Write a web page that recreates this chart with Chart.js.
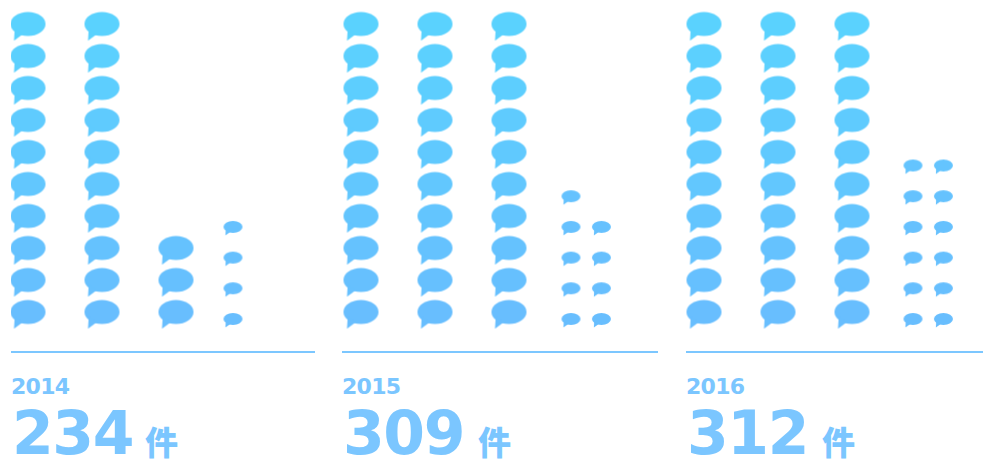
<!DOCTYPE html>
<html lang="ja">
<head>
<meta charset="utf-8">
<title>件数の推移</title>
<script src="https://cdn.jsdelivr.net/npm/chart.js@4"></script>
<style>
  html, body { margin: 0; background: #fff; }
  body { position: relative; width: 983px; height: 461px; overflow: hidden;
         font-family: "DejaVu Sans", sans-serif; color: #7bc6ff; font-weight: bold; }
  canvas { position: absolute; top: 0; }
  .year, .total, .unit { position: absolute; line-height: 1; white-space: nowrap; }
  .year { top: 376px; font-size: 22px; letter-spacing: -0.7px; }
  .total { top: 403px; font-size: 60px; letter-spacing: -1.4px; }
  .unit { top: 425px; font-size: 33px; font-family: "Noto Sans CJK JP", sans-serif; font-weight: 900; }
</style>
</head>
<body>
<script>
// Yearly counts: a large bubble stands for 10 cases, a small one for a single case.
const years = ['2014', '2015', '2016'];
const totals = [234, 309, 312];
const largeColumns = [[10, 10, 3], [10, 10, 10], [10, 10, 10]];
const smallColumns = [[4, 0], [5, 4], [6, 6]];
const unitLabel = '件';

// Panel geometry and the spacing of each bubble grid, in pixels.
const panels = [
  { left: 11, width: 304, large: 28, small: 233, unit: 145 },
  { left: 342, width: 316, large: 361, small: 571, unit: 478 },
  { left: 686, width: 297, large: 704, small: 913, unit: 822 }
];
const axisY = 352;
const axisGap = 2;
const large = { stepX: 74, stepY: 32, firstY: 312, w: 35, h: 24 };
const small = { stepX: 30.4, stepY: 30.7, firstY: 319, w: 19, h: 12 };

// Row colour runs from blue at the foot of the stack to cyan at the top.
function rowColor(row) {
  const t = Math.min(1, (row - 1) / 9);
  const r = Math.round(104 - 14 * t);
  const g = Math.round(190 + 20 * t);
  return `rgb(${r},${g},254)`;
}

function bubble(spec, color) {
  const pad = 3;
  const w = spec.w + pad * 2;
  const tail = spec.h * 0.2;
  const c = document.createElement('canvas');
  c.width = w;
  c.height = (spec.h / 2 + tail + pad) * 2;
  const g = c.getContext('2d');
  const cx = w / 2, cy = c.height / 2;
  g.filter = 'blur(0.7px)';
  g.fillStyle = color;
  g.beginPath();
  g.ellipse(cx, cy, spec.w / 2, spec.h / 2, 0, 0, Math.PI * 2);
  g.fill();
  // tail at the lower left of the balloon
  g.beginPath();
  g.moveTo(cx - spec.w * 0.38, cy + spec.h * 0.2);
  g.lineTo(cx - spec.w * 0.4, cy + spec.h / 2 + tail);
  g.lineTo(cx - spec.w * 0.16, cy + spec.h * 0.44);
  g.closePath();
  g.fill();
  return c;
}

function columnPoints(columns) {
  const pts = [];
  columns.forEach((count, col) => {
    for (let row = 1; row <= count; row++) pts.push({ x: col + 1, y: row });
  });
  return pts;
}

function slotScale(firstPx, step, lo, size) {
  const min = 1 - (firstPx - lo) / step;
  return { min, max: min + size / step };
}

function addText(cls, text, left) {
  const el = document.createElement('div');
  el.className = cls;
  el.textContent = text;
  el.style.left = left + 'px';
  document.body.appendChild(el);
}

panels.forEach((p, i) => {
  const canvas = document.createElement('canvas');
  canvas.width = p.width;
  canvas.height = axisY + axisGap;
  canvas.style.left = p.left + 'px';
  document.body.appendChild(canvas);

  const hidden = { display: false };
  const styleFor = (spec, pts) => pts.map(pt => bubble(spec, rowColor(spec === large ? pt.y : 1 + (pt.y - 1) * 0.5)));
  const bigPts = columnPoints(largeColumns[i]);
  const smallPts = columnPoints(smallColumns[i]);

  new Chart(canvas, {
    type: 'scatter',
    data: {
      datasets: [
        { data: bigPts, xAxisID: 'x', yAxisID: 'y', pointStyle: styleFor(large, bigPts), clip: false },
        { data: smallPts, xAxisID: 'xs', yAxisID: 'ys', pointStyle: styleFor(small, smallPts), clip: false }
      ]
    },
    options: {
      responsive: false,
      animation: false,
      layout: { padding: { bottom: axisGap }, autoPadding: false },
      plugins: { legend: { display: false }, tooltip: { enabled: false } },
      scales: {
        x: {
          type: 'linear',
          ...slotScale(p.large, large.stepX, p.left, p.width),
          grid: { display: false, drawTicks: false },
          ticks: { display: false },
          border: { display: true, color: '#7cc7ff', width: 2 }
        },
        xs: { type: 'linear', ...hidden, ...slotScale(p.small, small.stepX, p.left, p.width) },
        y: { type: 'linear', ...hidden, min: 1 - (axisY - large.firstY) / large.stepY, max: 1 + large.firstY / large.stepY },
        ys: { type: 'linear', ...hidden, min: 1 - (axisY - small.firstY) / small.stepY, max: 1 + small.firstY / small.stepY }
      }
    }
  });

  addText('year', years[i], p.left);
  addText('total', String(totals[i]), p.left + 1);
  addText('unit', unitLabel, p.unit);
});
</script>
</body>
</html>
